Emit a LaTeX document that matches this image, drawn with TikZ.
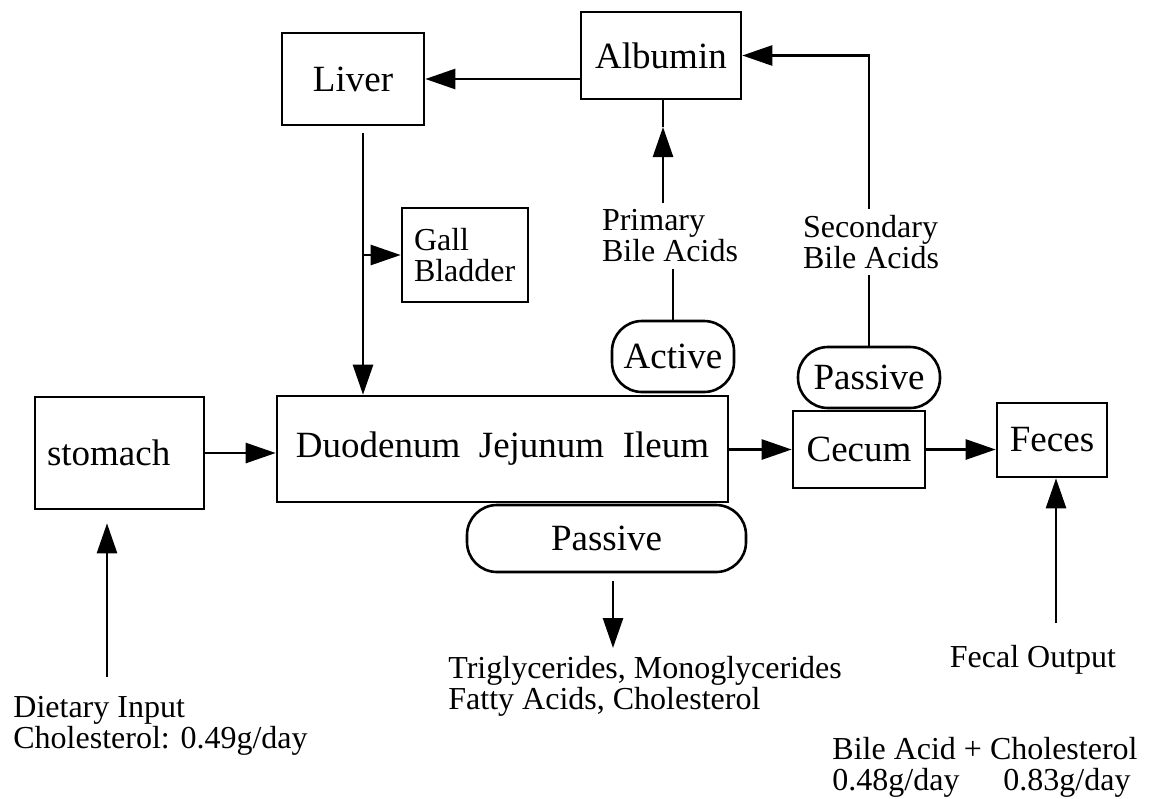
\documentclass[tikz,border=0pt]{standalone}
\usepackage{fontspec}
\setmainfont{Liberation Serif}
\usetikzlibrary{arrows.meta}
\tikzset{
  box/.style={draw, line width=1.3pt, inner sep=2pt, font=\fontsize{18.5}{20}\selectfont},
  pill/.style={box, rounded corners=15pt},
  lbl/.style={align=left, inner sep=3pt, font=\fontsize{16}{15.5}\selectfont},
  arr/.style={-{Triangle[length=15pt,width=10pt]}, line width=1.3pt},
  link/.style={line width=1.3pt}
}
\begin{document}
\begin{tikzpicture}[x=0.5pt, y=-0.5pt]
\useasboundingbox (0,0) rectangle (1149,798);
% organs
\node[box, minimum width=71pt, minimum height=46pt] (liver) at (353,79) {Liver};
\node[box, minimum width=80pt, minimum height=43.5pt] (albumin) at (661,55.5) {Albumin};
\node[box, font=\fontsize{16}{15.5}\selectfont, align=left, text width=51pt, inner sep=6pt, minimum height=47pt] (gall) at (465,255) {Gall\\Bladder};
\node[box, text width=72.5pt, inner sep=6pt, align=left, minimum height=56pt] (stomach) at (119.5,453) {stomach};
\node[box, minimum width=225.5pt, minimum height=53pt] (duod) at (502.5,449) {Duodenum\ \ Jejunum\ \ Ileum};
\node[box, minimum width=66pt, minimum height=38.5pt] (cecum) at (859,449.5) {Cecum};
\node[box, minimum width=55pt, minimum height=37pt] (feces) at (1052,440) {Feces};
% absorption
\node[pill, minimum width=61pt, minimum height=35.5pt] (active) at (673,356.5) {Active};
\node[pill, minimum width=71pt, minimum height=30.5pt] (passup) at (869,377.5) {Passive};
\node[pill, minimum width=139.5pt, minimum height=33.5pt] (passlow) at (606.5,538.5) {Passive};
% labels
\node[lbl] (prim) at (670,236) {Primary\\Bile Acids};
\node[lbl] (sec) at (871,242) {Secondary\\Bile Acids};
\node[lbl, anchor=north west] (trig) at (442,650) {Triglycerides, Monoglycerides\\Fatty Acids, Cholesterol};
\node[lbl, anchor=north west] (diet) at (7,690) {Dietary Input\\Cholesterol: 0.49g/day};
\node[lbl] (fecal) at (1033,660) {Fecal Output};
\node[lbl, anchor=north west] (bile) at (826,731) {Bile Acid + Cholesterol\\\makebox[85.5pt][l]{0.48g/day}0.83g/day};
\coordinate (gb) at (363,255);
\coordinate (pa) at (663,127);
\coordinate (tg) at (613,648);
\coordinate (di) at (107,677);
\coordinate (fo) at (1056,623);
% flows
\draw[arr] (albumin.west |- liver.east) -- (liver.east);
\draw[arr, shorten <=3.5pt] (liver.south -| gb) -- (duod.north -| gb);
\draw[arr] (gb) -- (gall.west);
\draw[arr] (stomach.east) -- (stomach.east -| duod.west);
\draw[arr] (duod.east |- cecum) -- (cecum.west);
\draw[arr] (cecum.east) -- (cecum.east -| feces.west);
\draw[link] (active.north) -- (active.north |- prim.south);
\draw[arr] (prim.north -| pa) -- (pa);
\draw[link] (pa) -- (pa |- albumin.south);
\draw[link] (passup.north) -- (passup.north |- sec.south);
\draw[arr] (sec.north -| passup) |- (albumin.east);
\draw[arr, shorten <=4pt] (tg |- passlow.south) -- (tg);
\draw[arr, shorten >=6.5pt] (di) -- (di |- stomach.south);
\draw[arr] (fo) -- (fo |- feces.south);
\end{tikzpicture}
\end{document}
